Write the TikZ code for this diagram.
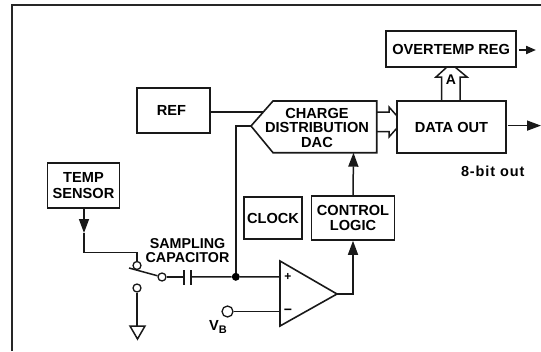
\documentclass[tikz,border=0pt]{standalone}
\usepackage{fontspec}
\setmainfont{Liberation Sans}
\usetikzlibrary{arrows.meta,calc}
\newfontface\labelfont[LetterSpace=6]{Liberation Sans Bold}
\tikzset{
  wire/.style={line width=1.5pt,line join=miter,black!90},
  frameline/.style={line width=2pt,black!85},
  block/.style={draw=black!90,line width=1.6pt,inner sep=0pt,align=center,font=\blockfont},
  txt/.style={inner sep=0pt,align=center,font=\blockfont},
  term/.style={circle,draw=black!90,line width=1.3pt,fill=white,inner sep=0pt,minimum size=8pt},
  dot/.style={circle,fill=black,inner sep=0pt,minimum size=8pt},
  tip/.style={-{Triangle[length=14pt,width=10pt]}},
  smalltip/.style={-{Triangle[length=10pt,width=8pt]}},
}
\newcommand{\blockfont}{\fontsize{14.6}{14.5}\selectfont\bfseries}
\begin{document}
\begin{tikzpicture}[x=1pt,y=-1pt]
\useasboundingbox (0,0) rectangle (541,351);
\draw[frameline] (12,351) -- (12,5) -- (541,5);

% blocks
\node[block,minimum width=73pt,minimum height=45pt] (ref) at (173.5,110.5) {};
\node[txt] (reflabel) at (171.5,110.3) {REF};
\node[block,minimum width=72pt,minimum height=45pt] (sensor) at (83.5,185.5) {TEMP\\[1pt]SENSOR};
\node[block,minimum width=58pt,minimum height=42pt] (clock) at (273,218) {CLOCK};
\node[block,minimum width=83pt,minimum height=44pt] (logic) at (353,218) {CONTROL\\LOGIC};
\node[block,minimum width=109pt,minimum height=52pt] (dataout) at (451.5,127) {DATA OUT};
\node[block,minimum width=130pt,minimum height=36pt] (overtemp) at (451.2,49) {OVERTEMP REG};

% DAC
\coordinate (dactip) at (251,126);
\coordinate (dacnw) at (273,101);
\coordinate (dacne) at (376.7,101);
\coordinate (dacse) at (376.7,152.7);
\coordinate (dacsw) at (273,152.7);
\draw[wire,line width=1.6pt] (dactip) -- (dacnw) -- (dacne) -- (dacse) -- (dacsw) -- cycle;
\node[txt] (dac) at (317,127.5) {CHARGE\\DISTRIBUTION\\DAC};
\coordinate (dacref) at (262.5,112);
\coordinate (dacin) at (353.5,152.7);
\draw[wire] (ref.east |- dacref) -- (dacref);

% op amp
\coordinate (oa1) at (280,261);
\coordinate (oa2) at (280,326);
\coordinate (oa3) at (337,294);
\draw[wire,line width=1.6pt] (oa1) -- (oa2) -- (oa3) -- cycle;
\node[font=\fontsize{12}{12}\selectfont\bfseries,inner sep=0pt] (plus) at (288,276.5) {+};
\node[font=\fontsize{14}{14}\selectfont\bfseries,inner sep=0pt] (minus) at (288,311.5) {\char"2212};

% switch and input
\node[term] (swtop) at (137,265.5) {};
\node[term] (swout) at (162,277) {};
\node[term] (swlow) at (137,288) {};
\node[term,minimum size=11pt] (vb) at (227.5,311.5) {};
\node[dot] (junction) at (235.8,276.8) {};
\coordinate (capl) at (184,277);
\coordinate (capr) at (191,277);
\coordinate (armend) at (129,268);
\coordinate (bend) at (84,252.7);
\coordinate (arrowtip) at (84,233);
\coordinate (gndtop) at (137,326);

\draw[wire,tip] (sensor.south -| bend) -- (arrowtip);
\draw[wire] (arrowtip) -- (bend) -| (swtop.north);
\draw[wire] (armend) -- (swout);
\draw[wire] (swout) -- (capl);
\draw[wire] (capl |- 0,270) -- (capl |- 0,285);
\draw[wire] (capr |- 0,270) -- (capr |- 0,285);
\draw[wire] (capr) -- (junction) -- (oa1 |- junction);
\draw[wire] (junction) |- (dactip);
\draw[wire] (vb) -- (oa1 |- vb);
\draw[wire] (swlow) -- (gndtop);
\draw[wire,line width=1.5pt] (130,326) -- (145,326) -- (137.5,339) -- cycle;

\node[txt,font=\fontsize{14.3}{14.5}\selectfont\bfseries] (sampling) at (187.5,250.5) {SAMPLING\\CAPACITOR};
\node[txt] (vblabel) at (218,327) {V\raisebox{-3pt}{\fontsize{11}{11}\selectfont B}};

% logic paths
\draw[wire,tip] (oa3) -| (logic.south);
\draw[wire,tip] (logic.north) -- (dacin);

% bus arrows
\coordinate (busa) at (397,116);
\coordinate (busb) at (397,128);
\draw[wire] (dacne |- 0,112) -- (389,112) -- (389,107) -- (busa);
\draw[wire] (dacne |- 0,131.6) -- (389,131.6) -- (389,137) -- (busb);
\coordinate (upa) at (447,67);
\coordinate (upb) at (455,67);
\draw[wire] (441.7,101) -- (441.7,77) -- (436,77) -- (upa);
\draw[wire] (460,101) -- (460,77) -- (467,77) -- (upb);
\node[txt,font=\fontsize{14}{14}\selectfont\bfseries] (alabel) at (451,80) {A};

% outputs
\coordinate (out1) at (536,50);
\coordinate (out2) at (541,125.6);
\draw[wire,line width=2pt,smalltip] (519,50) -- (out1);
\draw[wire,tip] (507.7,125.6) -- (out2);
\node[txt,font=\fontsize{14.5}{14.5}\labelfont] (bits) at (492.7,171) {8-bit out};
\end{tikzpicture}
\end{document}
